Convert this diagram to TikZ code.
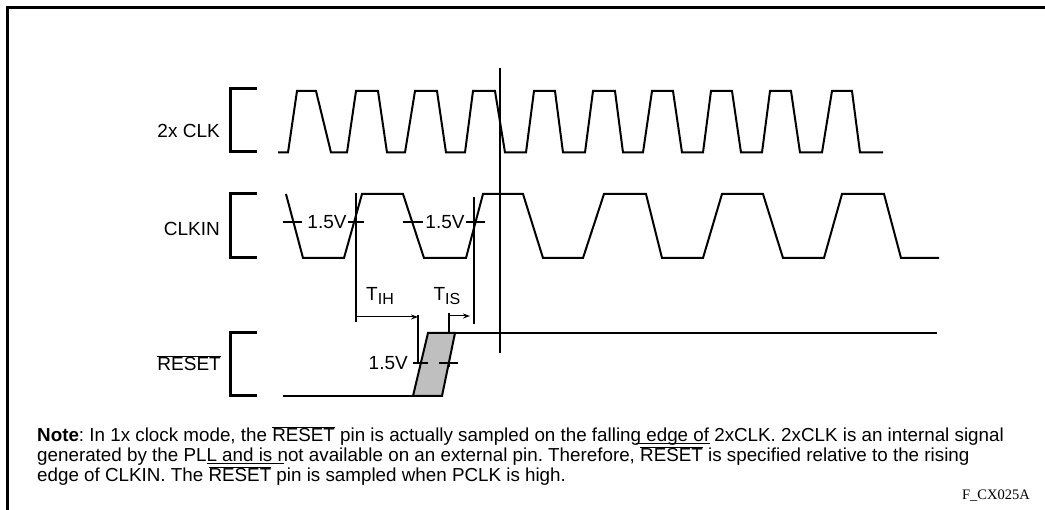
\documentclass[tikz,border=0pt]{standalone}
\usepackage{fontspec}
\setmainfont{Liberation Sans}
\newfontfamily\serifont{Liberation Serif}
\usetikzlibrary{arrows.meta}
\newcommand\myovl[1]{\ensuremath{\overline{\mbox{#1}}}}
\frenchspacing
\begin{document}
\begin{tikzpicture}[x=1pt,y=-1pt,
  frame/.style={line width=3pt},
  brk/.style={line width=3pt},
  wave/.style={line width=2pt, line join=miter},
  tick/.style={line width=2.2pt},
  thin/.style={line width=1.2pt},
  arr/.style={line width=1pt,-{Stealth[length=7pt,width=5pt]}},
  lbl/.style={font=\fontsize{19}{22}\selectfont, inner sep=0pt},
  vlbl/.style={font=\fontsize{19}{22}\selectfont, inner sep=0pt, fill=white, inner xsep=1pt}
]
\useasboundingbox (0,0) rectangle (1045,510);
% frame
\draw[frame] (7,510) -- (7,8) -- (1045,8);
% brackets
\draw[brk] (257,89) -- (230,89) -- (230,152) -- (257,152);
\draw[brk] (257,194) -- (230,194) -- (230,258) -- (257,258);
\draw[brk] (257,333) -- (230,333) -- (230,396) -- (257,396);
% labels
\node[lbl, anchor=east] (lclk) at (220,131) {2x CLK};
\node[lbl, anchor=east] (lclkin) at (220,229) {CLKIN};
\node[lbl, anchor=east] (lrst) at (221,363) {\myovl{RESET}};
% 2x CLK
\draw[wave] (278,152.5)
  \foreach \a/\b/\c/\d in {288/297/316/331, 347/356/378/387, 405/415/437/446,
     465/473/495/505, 526/534/555/563, 585/593/615/623, 643/652/673/682,
     703/711/732/741, 762/770/791/800, 822/832/852/860}
  { -- (\a,152.5) -- (\b,91) -- (\c,91) -- (\d,152.5) } -- (883,152.5);
% CLKIN
\draw[wave] (286,194) -- (303,258) -- (344,258) -- (362,194) -- (403,194)
  -- (424,258) -- (466,258) -- (483,194) -- (523,194) -- (543,258)
  -- (583,258) -- (604,194) -- (646,194) -- (662,258) -- (703,258)
  -- (722,194) -- (763,194) -- (783,258) -- (824,258) -- (842,194)
  -- (884,194) -- (901,258) -- (939,258);
% 1.5V ticks on CLKIN
\draw[tick] (283,222) -- (302,222);
\draw[tick] (346,222) -- (364,222);
\draw[tick] (403,222) -- (423,222);
\draw[tick] (465,222) -- (485,222);
\node[vlbl] (v1) at (327,222) {1.5V};
\node[vlbl] (v2) at (445,222) {1.5V};
% reference vertical lines
\coordinate (m1) at (500,68);
\coordinate (m2) at (500,353);
\draw[thin] (m1) -- (m2);
\coordinate (ih0) at (356,193);
\coordinate (ih1) at (356,322);
\draw[thin] (ih0) -- (ih1);
\coordinate (is0) at (474,197);
\coordinate (is1) at (474,324);
\draw[thin] (is0) -- (is1);
\coordinate (r1a) at (418,315);
\coordinate (r1b) at (418,363);
\draw[thin] (r1a) -- (r1b);
\coordinate (r2a) at (449,313);
\coordinate (r2b) at (449,367);
\draw[thin] (r2a) -- (r2b);
% timing arrows
\coordinate (aih) at (356,317);
\coordinate (aihe) at (418,317);
\draw[arr] (aih) -- (aihe);
\coordinate (ais) at (449,316);
\coordinate (aise) at (470,316);
\draw[arr] (ais) -- (aise);
\node[lbl] (tih) at (380,296) {T\raisebox{-4pt}{\fontsize{16}{16}\selectfont IH}};
\node[lbl] (tis) at (447,296) {T\raisebox{-4pt}{\fontsize{16}{16}\selectfont IS}};
% RESET waveform
\draw[wave] (283,396) -- (413,396);
\draw[wave, fill=black!25] (413,396) -- (428,333) -- (455,333) -- (442,396) -- cycle;
\draw[wave] (455,333) -- (937,333);
\draw[tick] (413,363) -- (428,363);
\draw[tick] (439,363) -- (458,363);
\node[lbl, anchor=east] (v3) at (408,363) {1.5V};
% note
\node[anchor=north west, align=left, inner sep=0pt,
  font=\fontsize{18.8}{20}\selectfont] (note) at (37,426)
{\textbf{Note}: In 1x clock mode, the \myovl{RESET} pin is actually sampled on the fallin\rlap{\kern0.3em\rule[-3pt]{3.9em}{1pt}}g edge of 2xCLK. 2xCLK is an internal signal\\
generated by the PL\rlap{\rule[-3pt]{4.1em}{1pt}}L and is not available on an external pin. Therefore, \myovl{RESET} is specified relative to the rising\\
edge of CLKIN. The \myovl{RESET} pin is sampled when PCLK is high.};
\node[anchor=east, inner sep=0pt, font=\serifont\fontsize{14.5}{16}\selectfont] (fig) at (1030,496) {F\_CX025A};
\end{tikzpicture}
\end{document}
